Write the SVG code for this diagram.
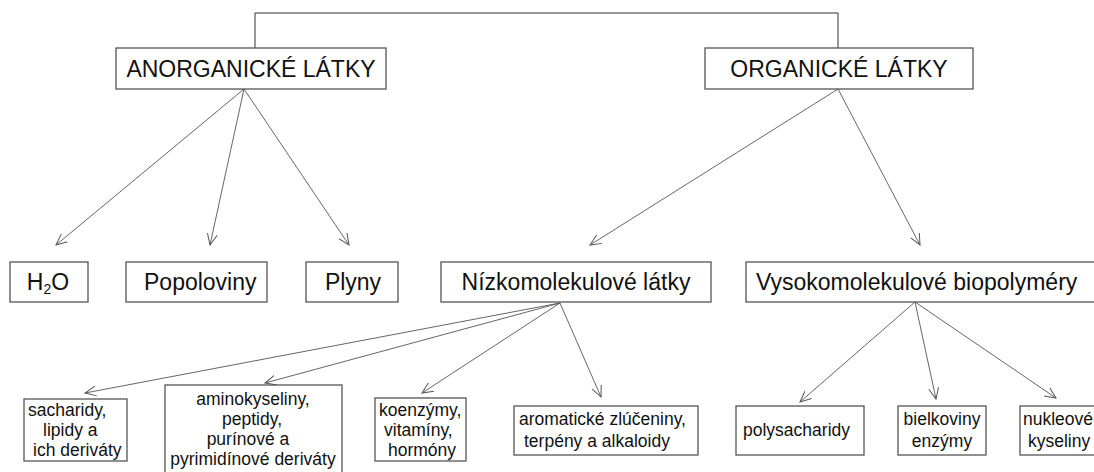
<svg xmlns="http://www.w3.org/2000/svg" width="1094" height="472" viewBox="0 0 1094 472">
<defs>
<marker id="ah" markerUnits="userSpaceOnUse" markerWidth="14" markerHeight="14" refX="11" refY="5" orient="auto" viewBox="0 0 14 10">
<path d="M0,0 L11,5 L0,10" fill="none" stroke="#555" stroke-width="1"/>
</marker>
</defs>
<style>
.box{fill:#fff;stroke:#555;stroke-width:1.3}
.big{font-family:"Liberation Sans",Arial,sans-serif;font-size:23px;fill:#111}
.sm{font-family:"Liberation Sans",Arial,sans-serif;font-size:17.5px;fill:#111}
.c{text-anchor:middle}
.arr{stroke:#555;stroke-width:0.9;fill:none;marker-end:url(#ah)}
.top{stroke:#333;stroke-width:1;fill:none}
</style>
<rect width="1094" height="472" fill="#fff"/>
<g id="connectors">
<path class="top" d="M255 48 V13 H838 V48"/>
<line class="arr" x1="244" y1="89" x2="56" y2="245"/>
<line class="arr" x1="244" y1="89" x2="210" y2="245"/>
<line class="arr" x1="244" y1="89" x2="349" y2="245"/>
<line class="arr" x1="838" y1="89" x2="590" y2="245"/>
<line class="arr" x1="838" y1="89" x2="920" y2="245"/>
<line class="arr" x1="560" y1="303" x2="85" y2="393"/>
<line class="arr" x1="560" y1="303" x2="265" y2="383"/>
<line class="arr" x1="560" y1="303" x2="422" y2="393"/>
<line class="arr" x1="560" y1="303" x2="601" y2="397"/>
<line class="arr" x1="915" y1="302" x2="800" y2="402"/>
<line class="arr" x1="915" y1="302" x2="936" y2="399"/>
<line class="arr" x1="915" y1="302" x2="1056" y2="398"/>
</g>
<g id="anorganicke">
<rect class="box" x="116" y="48" width="270" height="41"/>
<text class="big c" x="251" y="77">ANORGANICKÉ LÁTKY</text>
</g>
<g id="organicke">
<rect class="box" x="705" y="48" width="268" height="41"/>
<text class="big c" x="839" y="77">ORGANICKÉ LÁTKY</text>
</g>
<g id="h2o">
<rect class="box" x="10" y="262" width="78" height="40"/>
<text class="big c" x="48" y="290">H<tspan font-size="14" dy="4">2</tspan><tspan dy="-4">O</tspan></text>
</g>
<g id="popoloviny">
<rect class="box" x="126" y="262" width="141" height="40"/>
<text class="big" x="144" y="290">Popoloviny</text>
</g>
<g id="plyny">
<rect class="box" x="306" y="262" width="92" height="40"/>
<text class="big c" x="353" y="290">Plyny</text>
</g>
<g id="nizkomolekulove">
<rect class="box" x="441" y="262" width="270" height="40"/>
<text class="big c" x="576" y="290">Nízkomolekulové látky</text>
</g>
<g id="vysokomolekulove">
<rect class="box" x="746" y="262" width="352" height="40"/>
<text class="big" x="756" y="290">Vysokomolekulové biopolyméry</text>
</g>
<g id="sacharidy">
<rect class="box" x="24" y="399" width="103" height="62"/>
<text class="sm" x="28" y="416">sacharidy,</text>
<text class="sm" x="43" y="436">lipidy a</text>
<text class="sm" x="33" y="456">ich deriváty</text>
</g>
<g id="aminokyseliny">
<rect class="box" x="165" y="385" width="177" height="95"/>
<text class="sm c" x="253" y="405">aminokyseliny,</text>
<text class="sm c" x="252" y="425">peptidy,</text>
<text class="sm c" x="248" y="445">purínové a</text>
<text class="sm c" x="253" y="465">pyrimidínové deriváty</text>
</g>
<g id="koenzymy">
<rect class="box" x="375" y="398" width="91" height="63"/>
<text class="sm" x="379" y="416">koenzýmy,</text>
<text class="sm" x="384" y="436">vitamíny,</text>
<text class="sm" x="388" y="456">hormóny</text>
</g>
<g id="aromaticke">
<rect class="box" x="514" y="406" width="184" height="49"/>
<text class="sm" x="519" y="425">aromatické zlúčeniny,</text>
<text class="sm" x="524" y="447">terpény a alkaloidy</text>
</g>
<g id="polysacharidy">
<rect class="box" x="736" y="406" width="128" height="49"/>
<text class="sm" x="743" y="436">polysacharidy</text>
</g>
<g id="bielkoviny">
<rect class="box" x="898" y="406" width="88" height="49"/>
<text class="sm c" x="942" y="425">bielkoviny</text>
<text class="sm c" x="942" y="447">enzýmy</text>
</g>
<g id="nukleove">
<rect class="box" x="1020" y="406" width="80" height="49"/>
<text class="sm" x="1023" y="425">nukleové</text>
<text class="sm" x="1028" y="447">kyseliny</text>
</g>
</svg>
